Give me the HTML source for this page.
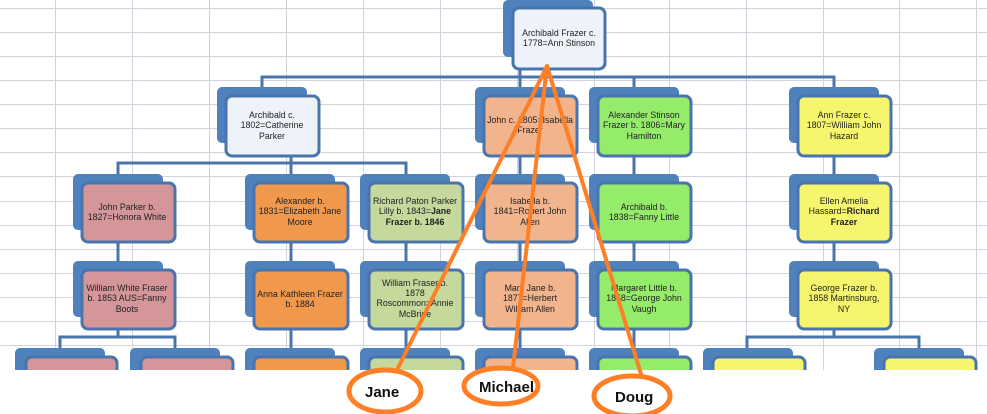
<!DOCTYPE html>
<html><head><style>body{margin:0;background:#fff}svg{display:block}text{font-family:"Liberation Sans",sans-serif}</style></head><body>
<svg width="987" height="414" xmlns="http://www.w3.org/2000/svg">
<g stroke="#d3d3e0" stroke-width="1">
<line x1="55.5" y1="0" x2="55.5" y2="370"/><line x1="132.5" y1="0" x2="132.5" y2="370"/><line x1="209.5" y1="0" x2="209.5" y2="370"/><line x1="286.5" y1="0" x2="286.5" y2="370"/><line x1="363.5" y1="0" x2="363.5" y2="370"/><line x1="440.5" y1="0" x2="440.5" y2="370"/><line x1="517.5" y1="0" x2="517.5" y2="370"/><line x1="594.5" y1="0" x2="594.5" y2="370"/><line x1="669.5" y1="0" x2="669.5" y2="370"/><line x1="746.5" y1="0" x2="746.5" y2="370"/><line x1="823.5" y1="0" x2="823.5" y2="370"/><line x1="899.5" y1="0" x2="899.5" y2="370"/><line x1="976.5" y1="0" x2="976.5" y2="370"/>
<line x1="0" y1="8.5" x2="987" y2="8.5"/><line x1="0" y1="32.5" x2="987" y2="32.5"/><line x1="0" y1="56.5" x2="987" y2="56.5"/><line x1="0" y1="80.5" x2="987" y2="80.5"/><line x1="0" y1="104.5" x2="987" y2="104.5"/><line x1="0" y1="128.5" x2="987" y2="128.5"/><line x1="0" y1="152.5" x2="987" y2="152.5"/><line x1="0" y1="176.5" x2="987" y2="176.5"/><line x1="0" y1="201.5" x2="987" y2="201.5"/><line x1="0" y1="225.5" x2="987" y2="225.5"/><line x1="0" y1="249.5" x2="987" y2="249.5"/><line x1="0" y1="273.5" x2="987" y2="273.5"/><line x1="0" y1="297.5" x2="987" y2="297.5"/><line x1="0" y1="321.5" x2="987" y2="321.5"/><line x1="0" y1="345.5" x2="987" y2="345.5"/>
</g>
<g stroke="#4a74ac" stroke-width="3" fill="none">
<polyline points="262,88 262,77 834,77 834,88"/><line x1="520" y1="70" x2="520" y2="88"/><line x1="634" y1="77" x2="634" y2="88"/>
<polyline points="118,175 118,163 406,163 406,175"/><line x1="291" y1="156" x2="291" y2="175"/>
<line x1="118" y1="242" x2="118" y2="262"/><line x1="291" y1="242" x2="291" y2="262"/><line x1="406" y1="242" x2="406" y2="262"/><line x1="520" y1="156" x2="520" y2="175"/><line x1="520" y1="242" x2="520" y2="262"/><line x1="634" y1="156" x2="634" y2="175"/><line x1="634" y1="242" x2="634" y2="262"/><line x1="834" y1="156" x2="834" y2="175"/><line x1="834" y1="242" x2="834" y2="262"/>
<polyline points="60,349 60,337 175,337 175,349"/><line x1="118" y1="329" x2="118" y2="337"/>
<line x1="291" y1="329" x2="291" y2="349"/><line x1="406" y1="329" x2="406" y2="349"/><line x1="520" y1="329" x2="520" y2="349"/><line x1="634" y1="329" x2="634" y2="349"/>
<polyline points="747,349 747,337 919,337 919,349"/><line x1="834" y1="329" x2="834" y2="337"/>
</g>
<g stroke="#4a74ac" stroke-width="3">
<rect x="503" y="0" width="90" height="57" rx="5" fill="#4f81bd" stroke="none"/><rect x="513" y="8" width="92" height="61" rx="6" fill="#eef3fa"/>
<rect x="217" y="87" width="90" height="56" rx="5" fill="#4f81bd" stroke="none"/><rect x="226" y="96" width="93" height="60" rx="6" fill="#eef3fa"/>
<rect x="475" y="87" width="90" height="56" rx="5" fill="#4f81bd" stroke="none"/><rect x="484" y="96" width="93" height="60" rx="6" fill="#f1b48c"/>
<rect x="589" y="87" width="90" height="56" rx="5" fill="#4f81bd" stroke="none"/><rect x="598" y="96" width="93" height="60" rx="6" fill="#94ec6a"/>
<rect x="789" y="87" width="90" height="56" rx="5" fill="#4f81bd" stroke="none"/><rect x="798" y="96" width="93" height="60" rx="6" fill="#f6f66e"/>

<rect x="73" y="174" width="90" height="56" rx="5" fill="#4f81bd" stroke="none"/><rect x="82" y="183" width="93" height="59" rx="6" fill="#d5969a"/>
<rect x="245" y="174" width="90" height="56" rx="5" fill="#4f81bd" stroke="none"/><rect x="254" y="183" width="94" height="59" rx="6" fill="#f0984c"/>
<rect x="360" y="174" width="90" height="56" rx="5" fill="#4f81bd" stroke="none"/><rect x="369" y="183" width="94" height="59" rx="6" fill="#c5d99c"/>
<rect x="475" y="174" width="90" height="56" rx="5" fill="#4f81bd" stroke="none"/><rect x="484" y="183" width="93" height="59" rx="6" fill="#f1b48c"/>
<rect x="589" y="174" width="90" height="56" rx="5" fill="#4f81bd" stroke="none"/><rect x="598" y="183" width="93" height="59" rx="6" fill="#94ec6a"/>
<rect x="789" y="174" width="90" height="56" rx="5" fill="#4f81bd" stroke="none"/><rect x="798" y="183" width="93" height="59" rx="6" fill="#f6f66e"/>

<rect x="73" y="261" width="90" height="56" rx="5" fill="#4f81bd" stroke="none"/><rect x="82" y="270" width="93" height="59" rx="6" fill="#d5969a"/>
<rect x="245" y="261" width="90" height="56" rx="5" fill="#4f81bd" stroke="none"/><rect x="254" y="270" width="94" height="59" rx="6" fill="#f0984c"/>
<rect x="360" y="261" width="90" height="56" rx="5" fill="#4f81bd" stroke="none"/><rect x="369" y="270" width="94" height="59" rx="6" fill="#c5d99c"/>
<rect x="475" y="261" width="90" height="56" rx="5" fill="#4f81bd" stroke="none"/><rect x="484" y="270" width="93" height="59" rx="6" fill="#f1b48c"/>
<rect x="589" y="261" width="90" height="56" rx="5" fill="#4f81bd" stroke="none"/><rect x="598" y="270" width="93" height="59" rx="6" fill="#94ec6a"/>
<rect x="789" y="261" width="90" height="56" rx="5" fill="#4f81bd" stroke="none"/><rect x="798" y="270" width="93" height="59" rx="6" fill="#f6f66e"/>

<rect x="15" y="348" width="90" height="40" rx="5" fill="#4f81bd" stroke="none"/><rect x="26" y="357" width="91" height="30" rx="6" fill="#d5969a"/>
<rect x="130" y="348" width="90" height="40" rx="5" fill="#4f81bd" stroke="none"/><rect x="141" y="357" width="92" height="30" rx="6" fill="#d5969a"/>
<rect x="245" y="348" width="90" height="40" rx="5" fill="#4f81bd" stroke="none"/><rect x="254" y="357" width="94" height="30" rx="6" fill="#f0984c"/>
<rect x="360" y="348" width="90" height="40" rx="5" fill="#4f81bd" stroke="none"/><rect x="369" y="357" width="94" height="30" rx="6" fill="#c5d99c"/>
<rect x="475" y="348" width="90" height="40" rx="5" fill="#4f81bd" stroke="none"/><rect x="484" y="357" width="93" height="30" rx="6" fill="#f1b48c"/>
<rect x="589" y="348" width="90" height="40" rx="5" fill="#4f81bd" stroke="none"/><rect x="598" y="357" width="93" height="30" rx="6" fill="#94ec6a"/>
<rect x="703" y="348" width="90" height="40" rx="5" fill="#4f81bd" stroke="none"/><rect x="713" y="357" width="92" height="30" rx="6" fill="#f6f66e"/>
<rect x="874" y="348" width="90" height="40" rx="5" fill="#4f81bd" stroke="none"/><rect x="884" y="357" width="92" height="30" rx="6" fill="#f6f66e"/>
</g>
<rect x="0" y="370" width="987" height="44" fill="#fff"/>
<g font-size="8.8" fill="#222" text-anchor="middle">
<text x="559" y="36">Archibald Frazer c.</text><text x="559" y="46">1778=Ann Stinson</text>
<text x="272" y="118">Archibald c.</text><text x="272" y="128">1802=Catherine</text><text x="272" y="139">Parker</text>
<text x="530" y="123">John c. 1805=Isabella</text><text x="530" y="133">Frazer</text>
<text x="644" y="118">Alexander Stinson</text><text x="644" y="128">Frazer b. 1806=Mary</text><text x="644" y="139">Hamilton</text>
<text x="844" y="118">Ann Frazer c.</text><text x="844" y="128">1807=William John</text><text x="844" y="139">Hazard</text>
<text x="127" y="210">John Parker b.</text><text x="127" y="220">1827=Honora White</text>
<text x="300" y="204">Alexander b.</text><text x="300" y="214">1831=Elizabeth Jane</text><text x="300" y="225">Moore</text>
<text x="415" y="204">Richard Paton Parker</text><text x="415" y="214">Lilly b. 1843=<tspan font-weight="bold">Jane</tspan></text><text x="415" y="225" font-weight="bold">Frazer b. 1846</text>
<text x="530" y="204">Isabella b.</text><text x="530" y="214">1841=Robert John</text><text x="530" y="225">Allen</text>
<text x="644" y="210">Archibald b.</text><text x="644" y="220">1838=Fanny Little</text>
<text x="844" y="204">Ellen Amelia</text><text x="844" y="214">Hassard=<tspan font-weight="bold">Richard</tspan></text><text x="844" y="225" font-weight="bold">Frazer</text>
<text x="127" y="291">William White Fraser</text><text x="127" y="301">b. 1853 AUS=Fanny</text><text x="127" y="312">Boots</text>
<text x="300" y="297">Anna Kathleen Frazer</text><text x="300" y="307">b. 1884</text>
<text x="415" y="286">William Fraser b.</text><text x="415" y="296">1878</text><text x="415" y="306">Roscommon=Annie</text><text x="415" y="317">McBride</text>
<text x="530" y="291">Mary Jane b.</text><text x="530" y="301">1877=Herbert</text><text x="530" y="312">William Allen</text>
<text x="644" y="291">Margaret Little b.</text><text x="644" y="301">1858=George John</text><text x="644" y="312">Vaugh</text>
<text x="844" y="291">George Frazer b.</text><text x="844" y="301">1858 Martinsburg,</text><text x="844" y="312">NY</text>
</g>
<g stroke="#ff7f27" stroke-width="4" fill="none" stroke-linecap="round">
<line x1="547" y1="66" x2="398" y2="368"/><line x1="547" y1="66" x2="513" y2="368"/><line x1="547" y1="66" x2="641" y2="374"/>
<ellipse cx="385" cy="391" rx="36" ry="21" stroke-width="5"/><ellipse cx="501" cy="386" rx="37" ry="18" stroke-width="5"/><ellipse cx="632" cy="396" rx="38" ry="20" stroke-width="5"/>
</g>
<g font-size="15" font-weight="bold" fill="#111">
<text x="365" y="397">Jane</text><text x="479" y="392">Michael</text><text x="615" y="402">Doug</text>
</g>
</svg>
</body></html>
